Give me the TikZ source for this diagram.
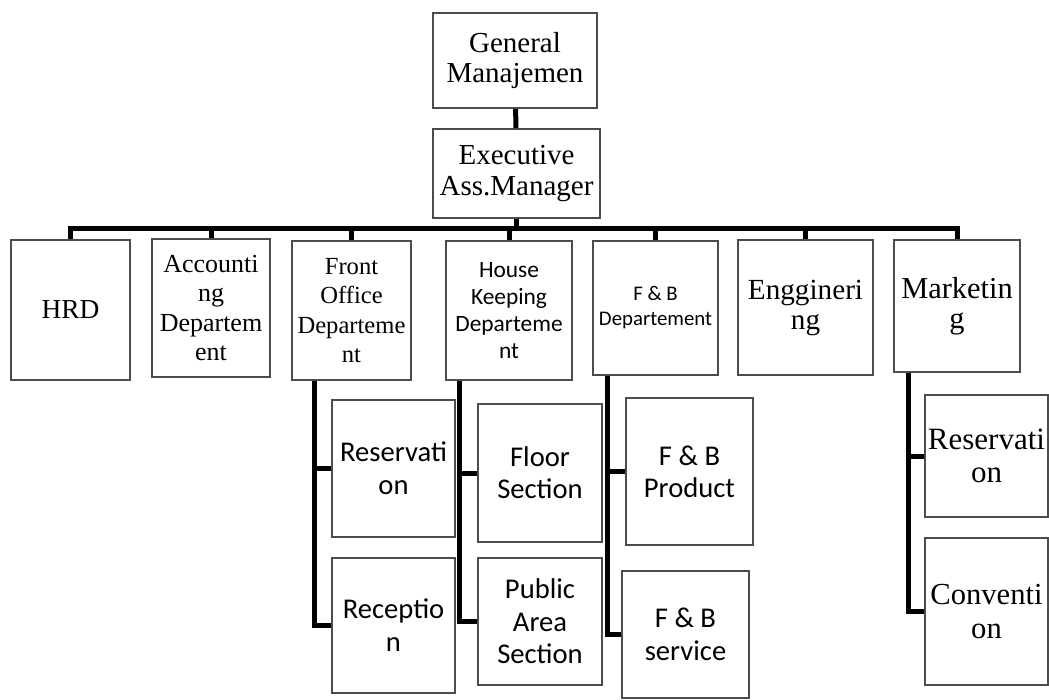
\documentclass[tikz,border=0pt]{standalone}
\usepackage{fontspec}
\setmainfont{Liberation Serif}
\newfontfamily\calibri{Carlito}

\begin{document}
\begin{tikzpicture}[
      x=0.5pt, y=-0.5pt,
      box/.style={
        rectangle,
        draw=black!70,
        line width=0.9pt,
        fill=white,
        inner sep=1pt,
        align=center
      },
      tnr/.style 2 args={box, font=\fontsize{#1}{#2}\selectfont},
      cal/.style 2 args={box, font=\calibri\fontsize{#1}{#2}\selectfont},
      conn/.style={line width=2.5pt}
    ]
      \useasboundingbox (0,0) rectangle (1049,700);

      \node[tnr={14.5}{15}, minimum width=82pt, minimum height=47.5pt] (gm) at (515,60.5) {General\\Manajemen};
      \node[tnr={14.5}{15.5}, minimum width=83.5pt, minimum height=44.5pt] (exec) at (516.5,173.5) {Executive\\Ass.Manager};

      \node[tnr={13.7}{14.5}, minimum width=59.5pt, minimum height=70pt] (hrd) at (70.5,310) {HRD};
      \node[tnr={13}{14.6}, minimum width=59pt, minimum height=69pt] (acc) at (211,308) {Accounti\\ng\\Departem\\ent};
      \node[tnr={12.3}{14.6}, minimum width=59.5pt, minimum height=69.5pt] (fo) at (351.5,310.5) {Front\\Office\\Departeme\\nt};
      \node[cal={11.7}{13.5}, minimum width=63pt, minimum height=69.5pt] (hk) at (509,310.5) {House\\Keeping\\Departeme\\nt};
      \node[cal={10.4}{12.5}, minimum width=62.5pt, minimum height=67pt] (fb) at (655.5,308) {F \& B\\Departement};
      \node[tnr={14.6}{15}, minimum width=67.5pt, minimum height=67.5pt] (eng) at (805.5,307.5) {Enggineri\\ng};
      \node[tnr={15.2}{15}, minimum width=63pt, minimum height=66pt] (mkt) at (957,306) {Marketin\\g};

      \node[cal={14.3}{16.5}, minimum width=61.5pt, minimum height=68.5pt] (fores) at (393.5,468.5) {Reservati\\on};
      \node[cal={14.3}{16.5}, minimum width=61.5pt, minimum height=67.5pt] (forec) at (393.5,625.5) {Receptio\\n};
      \node[cal={14.3}{16}, minimum width=62pt, minimum height=69pt] (floor) at (540,473) {Floor\\Section};
      \node[cal={14.3}{16.2}, minimum width=62pt, minimum height=63.5pt] (public) at (540,621.5) {Public\\Area\\Section};
      \node[cal={14.3}{16}, minimum width=63.5pt, minimum height=73.5pt] (product) at (689.5,471.5) {F \& B\\Product};
      \node[cal={14.3}{16.5}, minimum width=63.5pt, minimum height=63.5pt] (service) at (685.5,634.5) {F \& B\\service};
      \node[tnr={15.5}{16.5}, minimum width=61.5pt, minimum height=61pt] (mkres) at (986.5,456) {Reservati\\on};
      \node[tnr={15.3}{17}, minimum width=61.5pt, minimum height=73.5pt] (conv) at (986.5,611.5) {Conventi\\on};

      \draw[conn] (gm) -- (exec);
      \draw[conn] (hrd.north) -- ++(0,-11) -| (mkt.north);
      \draw[conn] (exec.south) -- (exec.south |- 0,229);
      \foreach \dept in {acc, fo, hk, fb, eng}
        \draw[conn] (\dept.north) -- (\dept.north |- 0,229);

      \draw[conn] ([xshift=11.5pt]fo.south west) |- (fores.west);
      \draw[conn] ([xshift=11.5pt]fo.south west) |- (forec.west);
      \draw[conn] ([xshift=7pt]hk.south west) |- (floor.west);
      \draw[conn] ([xshift=7pt]hk.south west) |- (public.west);
      \draw[conn] ([xshift=7.5pt]fb.south west) |- (product.west);
      \draw[conn] ([xshift=7.5pt]fb.south west) |- (service.west);
      \draw[conn] ([xshift=7.5pt]mkt.south west) |- (mkres.west);
      \draw[conn] ([xshift=7.5pt]mkt.south west) |- (conv.west);
    \end{tikzpicture}
\end{document}
